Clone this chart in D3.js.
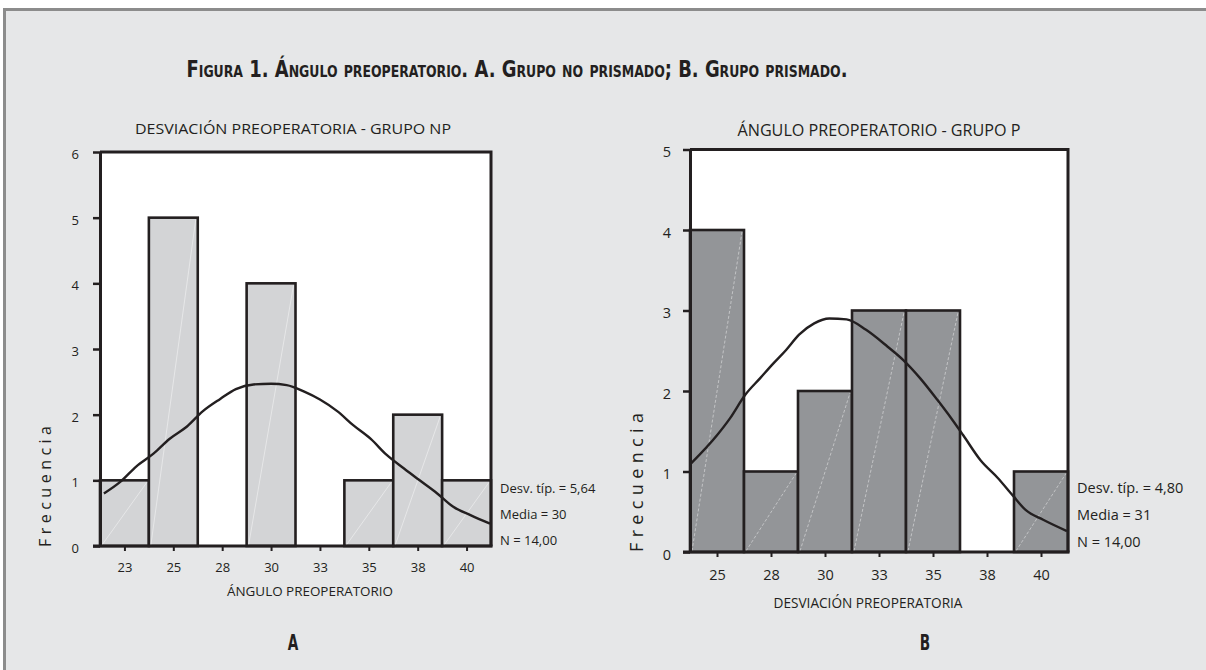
<!DOCTYPE html>
<html><head><meta charset="utf-8">
<script src="https://cdn.jsdelivr.net/npm/d3@7"></script>
<style>body{margin:0;background:#fff}svg{display:block}</style>
</head><body>
<svg id="c" width="1206" height="670"></svg>
<script>
// ---- Data ----
const titleText = "Figura 1. Ángulo preoperatorio. A. Grupo no prismado; B. Grupo prismado.";

// Panel A: grupo no prismado
const binsA = [22.5, 25, 27.5, 30, 32.5, 35, 37.5, 40];
const tickLabelsA = ["23", "25", "28", "30", "33", "35", "38", "40"];
const countsA = [1, 5, 0, 4, 0, 1, 2, 1];
const yTicksA = [0, 1, 2, 3, 4, 5, 6];
const curveAx = [21.45, 22.3, 23.1, 24.0, 24.8, 25.7, 26.5, 27.4, 28.2, 29.1, 30.0, 30.8, 31.7, 32.5, 33.4, 34.2, 35.1, 35.9, 36.8, 37.6, 38.5, 39.3, 40.2, 41.2];
const curveAy = [0.80, 0.98, 1.21, 1.41, 1.63, 1.82, 2.05, 2.24, 2.39, 2.46, 2.47, 2.45, 2.35, 2.23, 2.05, 1.84, 1.63, 1.39, 1.18, 1.00, 0.80, 0.60, 0.47, 0.34];
const statsA = ["Desv. típ. = 5,64", "Media = 30", "N = 14,00"];
const subtitleA = "DESVIACIÓN PREOPERATORIA - GRUPO NP";
const xTitleA = "ÁNGULO PREOPERATORIO";

// Panel B: grupo prismado
const binsB = [25, 27.5, 30, 32.5, 35, 37.5, 40];
const tickLabelsB = ["25", "28", "30", "33", "35", "38", "40"];
const countsB = [4, 1, 2, 3, 3, 0, 1];
const yTicksB = [0, 1, 2, 3, 4, 5];
const curveBx = [23.8, 25.0, 25.6, 26.3, 27.0, 27.6, 28.2, 28.8, 29.5, 30.2, 31.0, 31.9, 32.9, 33.6, 34.4, 35.2, 35.9, 36.4, 37.2, 38.0, 38.7, 39.3, 40.1, 41.2];
const curveBy = [1.10, 1.45, 1.66, 1.95, 2.16, 2.34, 2.51, 2.70, 2.84, 2.90, 2.89, 2.76, 2.55, 2.39, 2.16, 1.89, 1.64, 1.45, 1.14, 0.92, 0.70, 0.52, 0.40, 0.26];
const statsB = ["Desv. típ. = 4,80", "Media = 31", "N = 14,00"];
const subtitleB = "ÁNGULO PREOPERATORIO - GRUPO P";
const xTitleB = "DESVIACIÓN PREOPERATORIA";

const yLabel = "Frecuencia";
const panelLetters = ["A", "B"];

// ---- Drawing ----
const svg = d3.select("#c");
const LF = "'Open Sans', 'Noto Sans', sans-serif";
const TF = "'DejaVu Sans', sans-serif";
const INK = "#231f20";

svg.append("rect").attr("x", 4.5).attr("y", 9.5).attr("width", 1220).attr("height", 680)
  .attr("fill", "#e6e7e8").attr("stroke", "#8c8c8c").attr("stroke-width", 3);

svg.append("text").attr("x", 517).attr("y", 77).attr("text-anchor", "middle")
  .attr("font-family", TF).attr("font-weight", "bold").attr("font-size", 23)
  .style("font-variant", "small-caps").style("font-stretch", "condensed").attr("fill", INK)
  .attr("textLength", 661).attr("lengthAdjust", "spacingAndGlyphs")
  .text(titleText);

function panel(cfg) {
  const x = d3.scaleLinear().domain(cfg.xDom).range([cfg.left, cfg.right]);
  const y = d3.scaleLinear().domain([0, cfg.yMax]).range([cfg.bottom, cfg.top]);
  const g = svg.append("g");
  const binW = 2.5;

  g.append("rect").attr("x", cfg.left).attr("y", cfg.top)
    .attr("width", cfg.right - cfg.left).attr("height", cfg.bottom - cfg.top)
    .attr("fill", "#fff");

  const bars = cfg.bins.map((b, i) => ({ b, c: cfg.counts[i] })).filter(d => d.c > 0);
  g.selectAll("rect.bar").data(bars).join("rect").attr("class", "bar")
    .attr("x", d => x(d.b - binW / 2)).attr("y", d => y(d.c))
    .attr("width", d => x(d.b + binW / 2) - x(d.b - binW / 2))
    .attr("height", d => y(0) - y(d.c))
    .attr("fill", cfg.fill).attr("stroke", INK).attr("stroke-width", 2.6);
  g.selectAll("line.diag").data(bars).join("line").attr("class", "diag")
    .attr("x1", d => x(d.b - binW / 2) + 2).attr("y1", y(0) - 1)
    .attr("x2", d => x(d.b + binW / 2) - 2).attr("y2", d => y(d.c) + 2)
    .attr("stroke", "#fff").attr("stroke-opacity", 0.55).attr("stroke-width", 0.8)
    .attr("stroke-dasharray", cfg.dash);

  const clipId = "clip" + cfg.id;
  svg.append("clipPath").attr("id", clipId).append("rect")
    .attr("x", cfg.left).attr("y", cfg.top).attr("width", cfg.right - cfg.left).attr("height", cfg.bottom - cfg.top);
  const pts = cfg.cx.map((v, i) => [v, cfg.cy[i]]);
  g.append("path").attr("clip-path", `url(#${clipId})`)
    .attr("d", d3.line().x(d => x(d[0])).y(d => y(d[1])).curve(d3.curveMonotoneX)(pts))
    .attr("fill", "none").attr("stroke", INK).attr("stroke-width", 2.4);

  // frame top / right
  g.append("path").attr("d", `M${cfg.left},${cfg.top}H${cfg.right}V${cfg.bottom}`)
    .attr("fill", "none").attr("stroke", INK).attr("stroke-width", 3);

  // y axis
  const ya = d3.axisLeft(y).tickValues(cfg.yTicks).tickFormat(d3.format("d"))
    .tickSize(7).tickSizeOuter(0).tickPadding(cfg.yPad);
  const yg = g.append("g").attr("transform", `translate(${cfg.left},0)`).call(ya);
  yg.select(".domain").attr("stroke", INK).attr("stroke-width", 3);
  yg.selectAll(".tick line").attr("stroke", INK).attr("stroke-width", 2.5);
  yg.selectAll(".tick text").attr("font-family", LF).attr("font-size", cfg.fs)
    .attr("fill", INK).attr("dy", "0.5em");

  // x axis
  const xa = d3.axisBottom(x).tickValues(cfg.bins).tickFormat((d, i) => cfg.tickLabels[i])
    .tickSize(4).tickSizeOuter(0).tickPadding(cfg.xPad);
  const xg = g.append("g").attr("transform", `translate(0,${cfg.bottom + 1})`).call(xa);
  xg.select(".domain").remove();
  xg.selectAll(".tick line").attr("stroke", INK).attr("stroke-width", 2);
  xg.selectAll(".tick text").attr("font-family", LF).attr("font-size", cfg.fs).attr("fill", INK);
  g.append("line").attr("x1", cfg.left - 7).attr("x2", cfg.right + 1.5)
    .attr("y1", cfg.bottom).attr("y2", cfg.bottom).attr("stroke", INK).attr("stroke-width", 3);

  // titles
  g.append("text").attr("x", cfg.subX).attr("y", cfg.subY).attr("text-anchor", "middle")
    .attr("font-family", LF).attr("font-size", cfg.fs + 1.5).attr("fill", INK)
    .attr("textLength", cfg.subW).attr("lengthAdjust", "spacingAndGlyphs").text(cfg.subtitle);
  g.append("text").attr("x", cfg.xtX).attr("y", cfg.xtY).attr("text-anchor", "middle")
    .attr("font-family", LF).attr("font-size", cfg.fs).attr("fill", INK)
    .attr("textLength", cfg.xtW).attr("lengthAdjust", "spacingAndGlyphs").text(cfg.xTitle);
  g.append("text").attr("transform", `translate(${cfg.ylX},${cfg.ylY0}) rotate(-90)`)
    .attr("text-anchor", "start").attr("font-family", LF).attr("font-size", cfg.ylFs)
    .attr("fill", INK).attr("textLength", cfg.ylLen).attr("lengthAdjust", "spacing")
    .text(yLabel);

  g.selectAll("text.stat").data(cfg.stats).join("text").attr("class", "stat")
    .attr("x", cfg.statX).attr("y", (d, i) => cfg.statY + i * cfg.statDy)
    .attr("font-family", LF).attr("font-size", cfg.statFs).attr("fill", INK).text(d => d);

  svg.append("text").attr("transform", `translate(${cfg.letterX},650) scale(0.62,1)`)
    .attr("text-anchor", "middle")
    .attr("font-family", TF).attr("font-weight", "bold").attr("font-size", 22).attr("fill", INK)
    .text(cfg.letter);
}

panel({
  id: "A", xDom: [21.25, 41.25], yMax: 6, left: 100, right: 491, top: 152, bottom: 546,
  bins: binsA, counts: countsA, tickLabels: tickLabelsA, yTicks: yTicksA,
  cx: curveAx, cy: curveAy, fill: "#d3d4d6", dash: null,
  fs: 13, yPad: 14, xPad: 12,
  subtitle: subtitleA, subX: 293, subY: 134, subW: 316,
  xTitle: xTitleA, xtX: 310, xtY: 596, xtW: 166,
  ylX: 51, ylY0: 547, ylFs: 16, ylLen: 121,
  stats: statsA, statX: 500, statY: 493, statDy: 26, statFs: 13,
  letter: panelLetters[0], letterX: 293
});
panel({
  id: "B", xDom: [23.75, 41.25], yMax: 5, left: 690, right: 1068, top: 149.5, bottom: 552,
  bins: binsB, counts: countsB, tickLabels: tickLabelsB, yTicks: yTicksB,
  cx: curveBx, cy: curveBy, fill: "#939598", dash: "3,2",
  fs: 14.5, yPad: 12, xPad: 13,
  subtitle: subtitleB, subX: 879, subY: 136, subW: 283,
  xTitle: xTitleB, xtX: 868, xtY: 608, xtW: 189,
  ylX: 643, ylY0: 552, ylFs: 18, ylLen: 139,
  stats: statsB, statX: 1077, statY: 493, statDy: 27, statFs: 14.5,
  letter: panelLetters[1], letterX: 925
});
</script>
</body></html>
